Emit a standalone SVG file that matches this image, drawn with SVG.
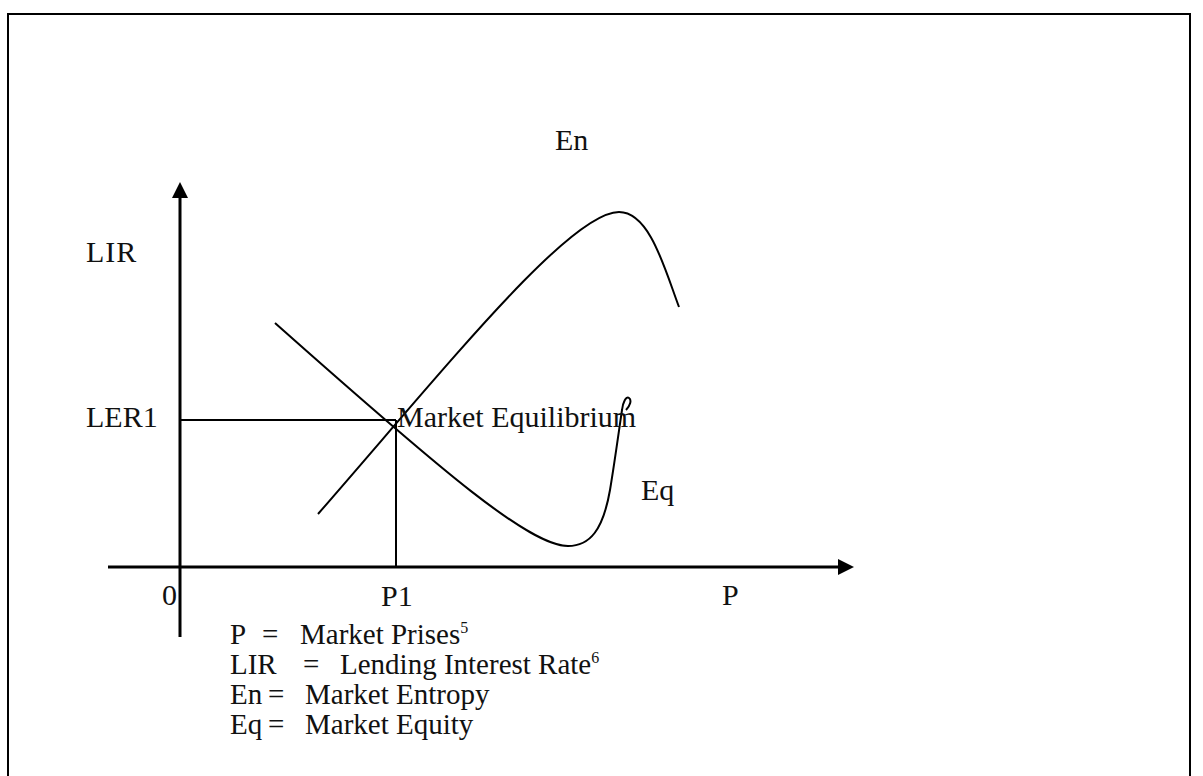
<svg xmlns="http://www.w3.org/2000/svg" width="1203" height="776" viewBox="0 0 1203 776">
<style>
text{font-family:"Liberation Serif","Times New Roman",serif;font-size:29px;fill:#111}
.lbl{font-size:30px}
.sup{font-size:16px}
.axis{stroke:#000;stroke-width:3;fill:none}
.ln{stroke:#000;stroke-width:2;fill:none}
</style>
<defs>
<marker id="ah" markerWidth="16" markerHeight="16" refX="0" refY="8" orient="auto" markerUnits="userSpaceOnUse" viewBox="0 0 16 16">
<path d="M0,0 L16,8 L0,16 Z" fill="#000"/>
</marker>
</defs>
<rect x="8" y="14" width="1182" height="800" fill="none" stroke="#000" stroke-width="2"/>
<g id="connectors">
<line class="axis" x1="180" y1="637" x2="180" y2="198" marker-end="url(#ah)"/>
<line class="axis" x1="108" y1="567" x2="838" y2="567" marker-end="url(#ah)"/>
<line class="ln" x1="180" y1="420" x2="396" y2="420"/>
<line class="ln" x1="396" y1="420" x2="396" y2="567"/>
<path id="en-curve" class="ln" d="M318,514 C448,365 570,212 619,212 C650,212 665,270 679,307"/>
<path id="eq-curve" class="ln" d="M275,323 C445,474 530,546 568,546 C590,546 603,530 610,490 C615,460 619,430 622,410 C623,402 626,396 629,398 C632,400 630,406 626,410"/>
</g>
<g id="label-en"><text class="lbl" x="555" y="150">En</text></g>
<g id="label-lir"><text class="lbl" x="86" y="262" letter-spacing="1">LIR</text></g>
<g id="label-ler1"><text class="lbl" x="86" y="427">LER1</text></g>
<g id="label-equilibrium"><text class="lbl" x="397" y="427">Market Equilibrium</text></g>
<g id="label-eq"><text class="lbl" x="641" y="500">Eq</text></g>
<g id="label-0"><text class="lbl" x="162" y="605">0</text></g>
<g id="label-p1"><text class="lbl" x="381" y="606">P1</text></g>
<g id="label-p"><text class="lbl" x="722" y="605">P</text></g>
<g id="legend">
<text y="644"><tspan x="230">P</tspan><tspan x="262">=</tspan><tspan x="300">Market Prises</tspan><tspan class="sup" dy="-11">5</tspan></text>
<text y="674"><tspan x="230">LIR</tspan><tspan x="303">=</tspan><tspan x="340">Lending Interest Rate</tspan><tspan class="sup" dy="-11">6</tspan></text>
<text y="704"><tspan x="230">En</tspan><tspan x="268">=</tspan><tspan x="305">Market Entropy</tspan></text>
<text y="734"><tspan x="230">Eq</tspan><tspan x="268">=</tspan><tspan x="305">Market Equity</tspan></text>
</g>
</svg>
